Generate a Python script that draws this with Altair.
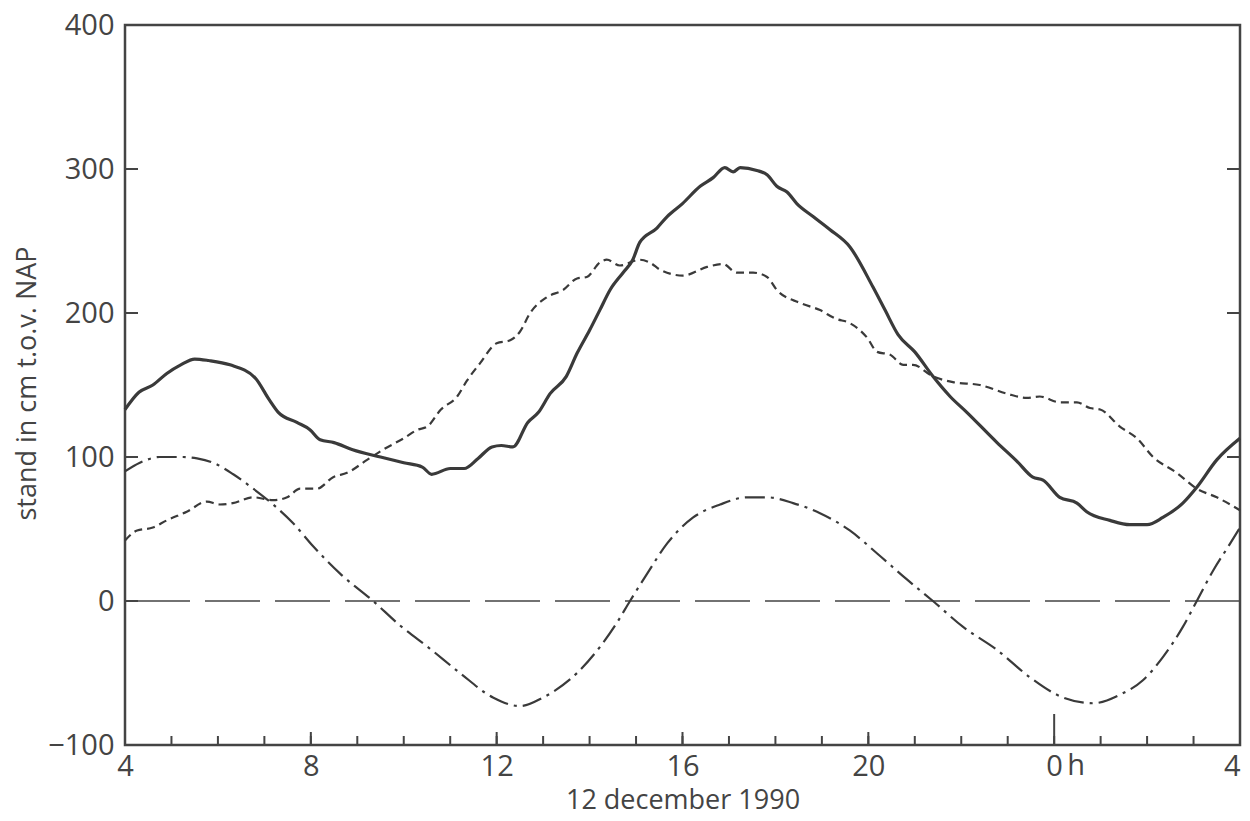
import altair as alt
import pandas as pd

# ---------------- data ----------------
# observed water level (solid line)
obs_h = [4.0, 4.3, 4.6, 4.9, 5.2, 5.5, 5.8, 6.26, 6.8, 7.1, 7.3, 7.7, 7.98, 8.2, 8.5, 8.9,
         9.5, 10.0, 10.4, 10.6, 11.0, 11.3, 11.6, 11.9, 12.1, 12.35, 12.67, 12.9, 13.15,
         13.5, 13.73, 14.0, 14.22, 14.44, 14.72, 14.93, 15.08, 15.45, 15.67, 16.0, 16.38,
         16.66, 16.91, 17.09, 17.24, 17.6, 17.82, 18.03, 18.25, 18.46, 18.81, 19.17, 19.6,
         20.1, 20.36, 20.64, 21.0, 21.39, 21.76, 22.12, 22.77, 23.2, 23.54, 23.76, 24.12,
         24.49, 24.7, 25.2, 25.63, 26.0, 26.34, 26.77, 27.07, 27.5, 28.0]
obs_v = [133, 145, 150, 158, 164, 168, 167, 164, 155, 140, 131, 124, 119, 112, 110, 105,
         100, 96, 93, 88, 92, 92, 99, 107, 108, 107, 124, 131, 144,
         156, 172, 188, 202, 216, 228, 237, 249, 259, 267, 276, 288,
         294, 301, 298, 301, 299, 296, 288, 284, 276, 267, 258, 246,
         218, 202, 185, 173, 156, 142, 131, 110, 97, 86, 84, 72,
         68, 62, 56, 53, 53, 58, 68, 79, 98, 113]

# surge (short dashes)
surge_h = [4.0, 4.26, 4.6, 4.9, 5.33, 5.76, 6.04, 6.32, 6.76, 7.19, 7.49, 7.77, 8.13, 8.48,
           8.78, 9.21, 9.55, 10.0, 10.3, 10.5, 10.8, 11.15, 11.36, 11.64, 12.0, 12.29, 12.5,
           12.72, 13.08, 13.43, 13.73, 13.94, 14.22, 14.37, 14.65, 15.08, 15.3, 15.52, 16.01,
           16.53, 16.87, 17.17, 17.52, 17.82, 18.03, 18.53, 18.96, 19.3, 19.6, 19.97, 20.19,
           20.47, 20.75, 20.96, 21.39, 21.82, 22.4, 22.98, 23.41, 23.69, 24.12, 24.49, 24.77,
           24.99, 25.42, 25.78, 26.13, 26.64, 27.07, 27.5, 28.0]
surge_v = [42, 49, 51, 56, 62, 69, 67, 68, 72, 70, 72, 78, 78, 86,
           89, 98, 105, 113, 119, 121, 133, 142, 153, 165, 179, 181, 187,
           200, 211, 216, 224, 225, 235, 237, 233, 237, 235, 230, 226,
           232, 234, 228, 228, 225, 216, 207, 202, 196, 193, 183, 173,
           171, 164, 164, 156, 152, 150, 144, 141, 142, 138, 138, 134,
           133, 121, 113, 100, 89, 78, 72, 63]

# astronomical tide (dash-dot)
tide_h = [4.0, 4.32, 4.75, 5.25, 5.55, 5.9, 6.33, 6.76, 7.19, 7.62, 8.05, 8.63, 9.34, 9.92,
          10.56, 11.21, 11.92, 12.5, 13.0, 13.73, 14.22, 14.59, 14.87, 15.24, 15.67, 16.23,
          16.81, 17.39, 17.82, 18.38, 18.96, 19.6, 20.19, 20.83, 21.39, 22.04, 22.77, 23.48,
          24.19, 24.84, 25.42, 25.91, 26.34, 26.77, 27.07, 27.42, 27.79, 28.0]
tide_v = [90, 96, 100, 100, 99, 96, 88, 78, 67, 54, 38, 19, 0, -17,
          -33, -50, -67, -73, -67, -50, -32, -15, 0, 19, 40, 58,
          67, 72, 72, 68, 61, 49, 33, 15, 0, -18, -34, -53,
          -67, -71, -65, -55, -39, -18, 0, 21, 40, 51]

zero_level = [0]

x_tick_values = [4, 8, 12, 16, 20, 24, 28]
x_tick_labels = ["4", "8", "12", "16", "20", "0", "4"]
y_tick_values = [-100, 0, 100, 200, 300, 400]
y_tick_labels = ["\u2212100", "0", "100", "200", "300", "400"]

hour_ticks = list(range(5, 28))
major_ticks = [8, 12, 16, 20]
midnight_tick = [24]
left_ticks = [0, 100, 200, 300]
right_ticks = [100, 200, 300]

x_title = "12 december 1990"
y_title = "stand in cm t.o.v. NAP"

# ---------------- styling ----------------
INK = "#3a3a3a"
AX = "#444444"
FONT = "Open Sans"
W, H = 1115, 720


def label_expr(values, labels):
    expr = "''"
    for v, l in reversed(list(zip(values, labels))):
        expr = f"datum.value == {v} ? '{l}' : ({expr})"
    return expr


x_scale = alt.Scale(domain=[4, 28], nice=False, zero=False)
y_scale = alt.Scale(domain=[-100, 400], nice=False, zero=False)

x_axis = alt.Axis(values=x_tick_values, labelExpr=label_expr(x_tick_values, x_tick_labels),
                  title=x_title, ticks=False, tickSize=0, domain=False, grid=False,
                  labelFlush=False, labelOverlap=False, labelFont=FONT, labelFontSize=29,
                  labelColor=AX, labelPadding=30, labelBaseline="alphabetic",
                  labelAlign={"condition": {"test": "datum.value >= 28", "value": "right"},
                              "value": "center"},
                  titleFont=FONT, titleFontSize=27, titleFontWeight="normal", titleColor=AX,
                  titleY=63, titleBaseline="alphabetic")
y_axis = alt.Axis(values=y_tick_values, labelExpr=label_expr(y_tick_values, y_tick_labels),
                  title=y_title, ticks=False, tickSize=0, domain=False, grid=False,
                  labelFlush=False, labelOverlap=False, labelFont=FONT, labelFontSize=29,
                  labelColor=AX, labelPadding=11, labelBaseline="middle",
                  titleFont=FONT, titleFontSize=27, titleFontWeight="normal", titleColor=AX,
                  titleAngle=270, titleX=-90, titleY=358, titleBaseline="alphabetic",
                  titleAlign="center")


def X():
    return alt.X("h:Q", scale=x_scale, axis=x_axis)


def Y():
    return alt.Y("v:Q", scale=y_scale, axis=y_axis)


obs = pd.DataFrame({"h": obs_h, "v": obs_v})
surge = pd.DataFrame({"h": surge_h, "v": surge_v})
tide = pd.DataFrame({"h": tide_h, "v": tide_v})

l_obs = alt.Chart(obs).mark_line(color=INK, strokeWidth=3.2, interpolate="monotone").encode(x=X(), y=Y())
l_surge = alt.Chart(surge).mark_line(color=INK, strokeWidth=2.2, strokeDash=[8, 5],
                                     interpolate="monotone").encode(x=X(), y=Y())
l_tide = alt.Chart(tide).mark_line(color=INK, strokeWidth=2.2, strokeDash=[20, 6, 3, 6],
                                   interpolate="monotone").encode(x=X(), y=Y())
l_zero = alt.Chart(pd.DataFrame({"v": zero_level})).mark_rule(
    color=AX, strokeWidth=1.6, strokeDash=[55, 15]).encode(y=Y())

t_hour = alt.Chart(pd.DataFrame({"h": hour_ticks})).mark_rule(color=AX, strokeWidth=2).encode(
    x=X(), y=alt.value(H), y2=alt.value(H - 9))
t_major = alt.Chart(pd.DataFrame({"h": major_ticks})).mark_rule(color=AX, strokeWidth=2).encode(
    x=X(), y=alt.value(H), y2=alt.value(H - 13))
t_mid = alt.Chart(pd.DataFrame({"h": midnight_tick})).mark_rule(color=AX, strokeWidth=2).encode(
    x=X(), y=alt.value(H), y2=alt.value(H - 31))
t_left = alt.Chart(pd.DataFrame({"v": left_ticks})).mark_rule(color=AX, strokeWidth=2).encode(
    y=Y(), x=alt.value(0), x2=alt.value(13))
t_right = alt.Chart(pd.DataFrame({"v": right_ticks})).mark_rule(color=AX, strokeWidth=2).encode(
    y=Y(), x=alt.value(W), x2=alt.value(W - 13))

h_text = alt.Chart(pd.DataFrame({"h": midnight_tick, "t": ["h"]})).mark_text(
    font=FONT, fontSize=29, color=AX, align="left", baseline="alphabetic", dx=13
).encode(x=X(), y=alt.value(H + 30), text="t:N")

chart = alt.layer(
    l_zero, l_tide, l_surge, l_obs, t_hour, t_major, t_mid, t_left, t_right, h_text
).properties(
    width=W, height=H,
    autosize=alt.AutoSizeParams(type="none"),
    padding={"left": 117, "top": 17, "right": 2, "bottom": 68},
).configure_view(stroke=AX, strokeWidth=2.5)

chart.save("out.html", embed_options={"renderer": "svg", "actions": False})
